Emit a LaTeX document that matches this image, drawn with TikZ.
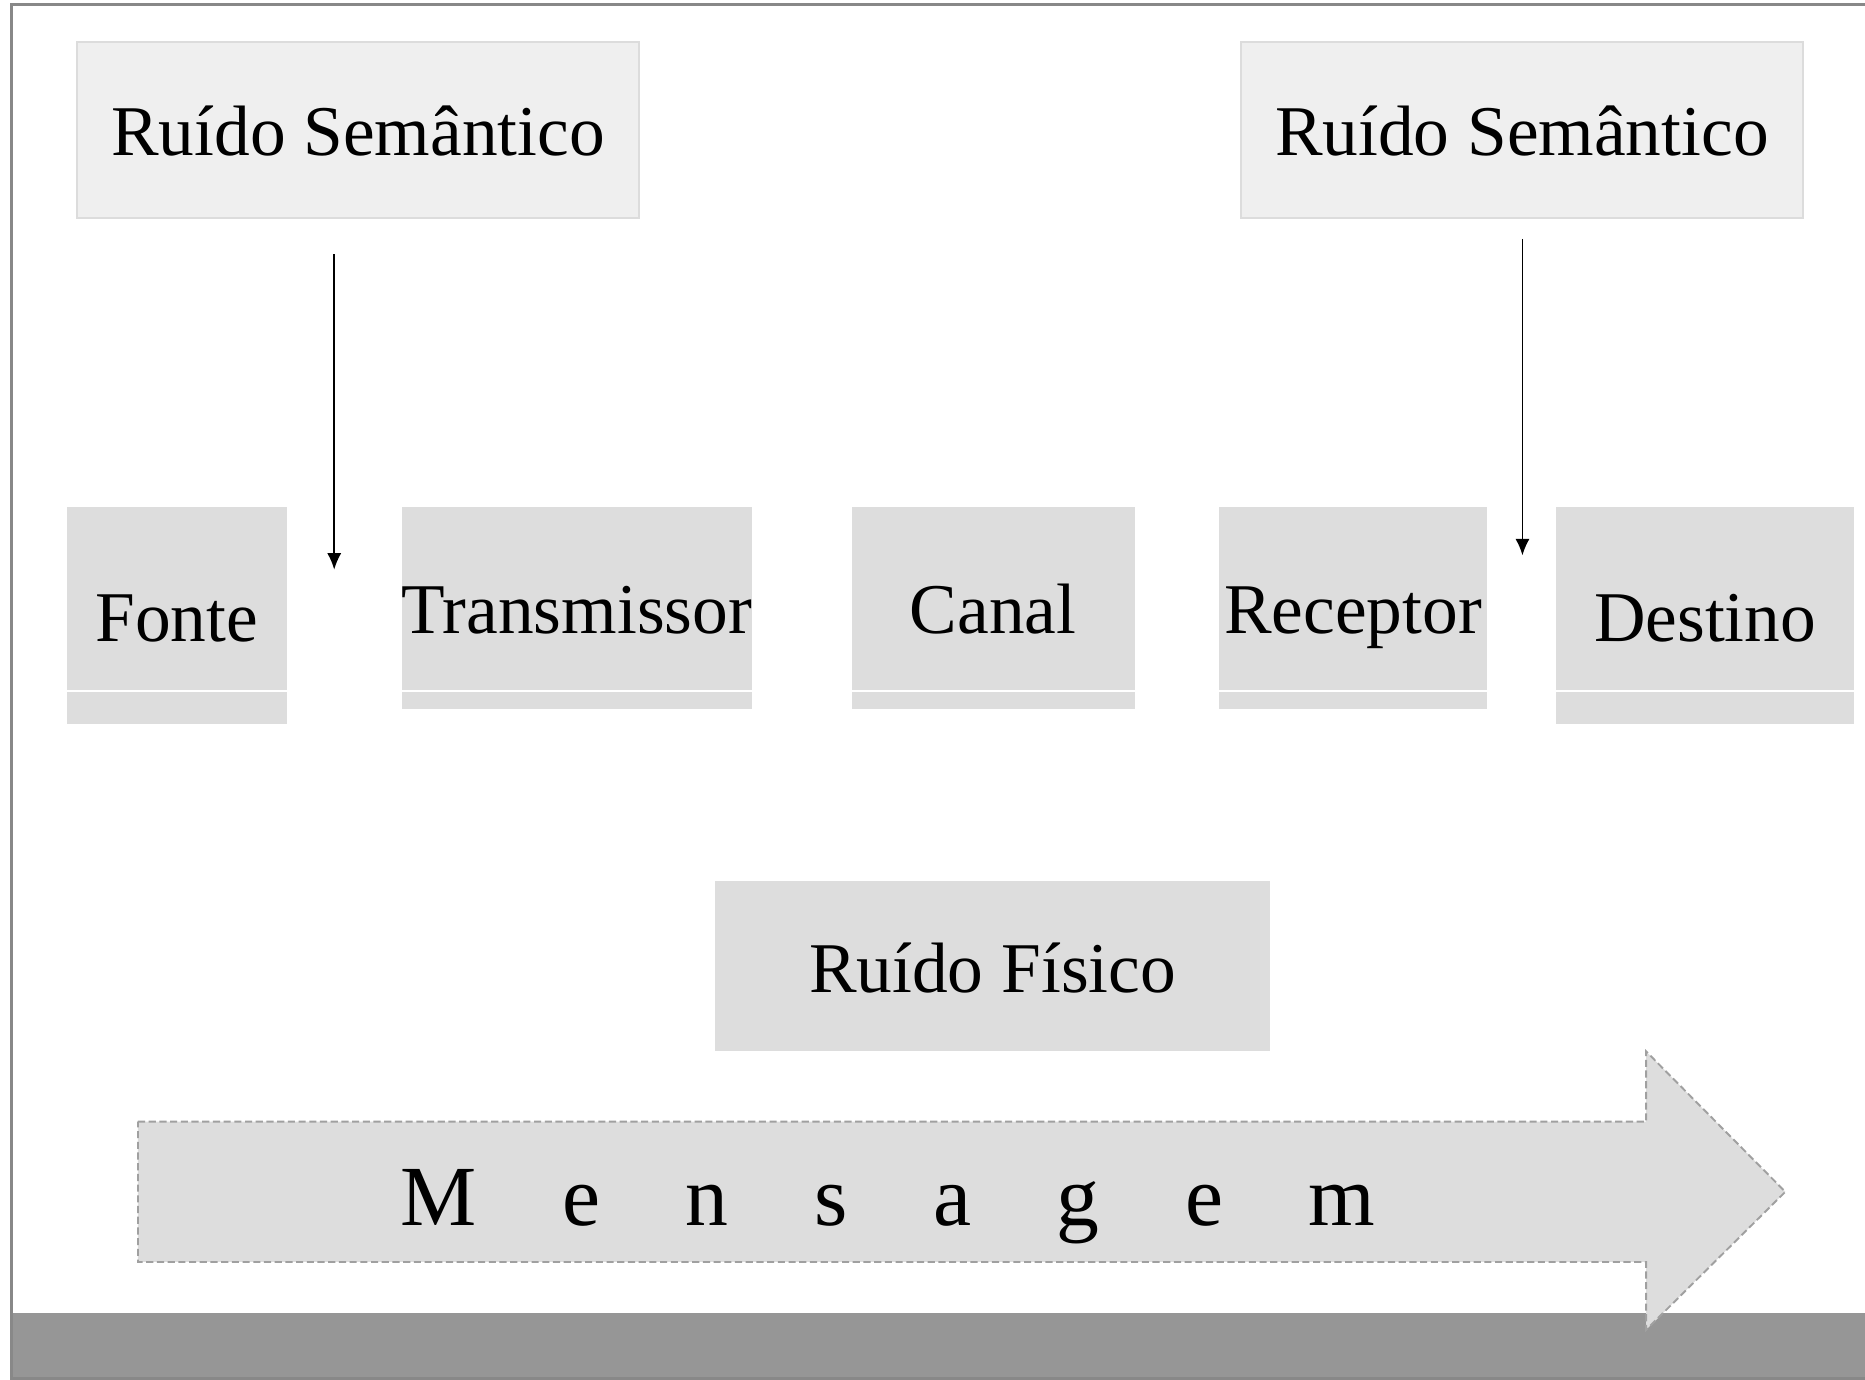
\documentclass[tikz,border=0pt]{standalone}
\usepackage{fontspec}
\setmainfont{Liberation Serif}
\usepackage{tikz}
\usetikzlibrary{arrows.meta}

\definecolor{semfill}{HTML}{EFEFEF}
\definecolor{semdraw}{HTML}{DCDCDC}
\definecolor{boxfill}{HTML}{DDDDDD}
\definecolor{framegray}{HTML}{888888}
\definecolor{bargray}{HTML}{969696}
\definecolor{dashgray}{HTML}{A0A0A0}

\newcommand{\lgap}{\hspace{36pt}}

\begin{document}
\begin{tikzpicture}[x=0.5pt,y=-0.5pt,
  txt/.style={font=\fontsize{30}{36}\selectfont,text height=22pt,text depth=0pt,inner sep=0pt},
  semantic/.style={txt,draw=semdraw,line width=0.9pt,fill=semfill,minimum width=236pt,minimum height=74pt},
  stage/.style={txt,fill=boxfill,minimum height=85pt},
  tallstage/.style={stage,minimum height=91.5pt},
  splitline/.style={white,line width=0.6pt},
  noise/.style={line width=0.8pt,-{Latex[length=7pt,width=6pt]}},
  msgshape/.style={fill=boxfill,draw=dashgray,line width=0.8pt,dash pattern=on 3pt off 1.5pt},
  msgtext/.style={font=\fontsize{36}{43}\selectfont,text height=28pt,text depth=0pt,inner sep=0pt}]

\useasboundingbox (0,0) rectangle (1568,1160);
\fill[white] (0,0) rectangle (1568,1160);
\fill[bargray] (10,1104) rectangle (1580,1160);
\draw[framegray,line width=1.2pt] (10,4) rectangle (1580,1159);

\node[semantic] (semL) at (301,109) {Ruído Semântico};
\node[semantic] (semR) at (1279.5,109) {Ruído Semântico};

\node[tallstage,minimum width=92.5pt] (fonte) at (148.5,517.5) {Fonte};
\node[stage,minimum width=146pt] (trans) at (485,511) {Transmissor};
\node[stage,minimum width=119pt] (canal) at (835,511) {Canal};
\node[stage,minimum width=112.5pt] (recep) at (1137.5,511) {Receptor};
\node[tallstage,minimum width=125.5pt] (dest) at (1433.5,517.5) {Destino};

\coordinate (splitY) at (0,581);
\foreach \n in {fonte,trans,canal,recep,dest}
  \draw[splitline] (\n.west |- splitY) -- (\n.east |- splitY);

\coordinate (semLend) at (281,479);
\coordinate (semRend) at (1280,467);
\draw[noise,shorten <=15pt] (semL.south -| semLend) -- (semLend);
\draw[noise,shorten <=8.5pt] (semR.south -| semRend) -- (semRend);

\node[stage,minimum width=233.5pt,minimum height=71.5pt] (fisico) at (834.5,812.5) {Ruído Físico};

\draw[msgshape] (116,943) -- (1384,943) -- (1384,884) -- (1501,1002) -- (1384,1118) -- (1384,1061) -- (116,1061) -- cycle;
\node[msgtext] (msg) at (746.5,1002) {M\lgap e\lgap n\lgap s\lgap a\lgap g\lgap e\lgap m};

\end{tikzpicture}
\end{document}
